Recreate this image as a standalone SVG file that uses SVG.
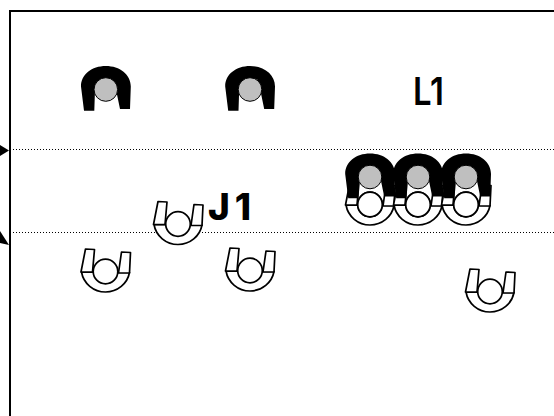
<svg xmlns="http://www.w3.org/2000/svg" width="554" height="416" viewBox="0 0 554 416">
<style>
.frame{fill:none;stroke:#000;stroke-width:2}
.dot{fill:none;stroke:#000;stroke-width:1.200;stroke-dasharray:1 2}
.lbl{font-family:"Inter","Liberation Sans",sans-serif;fill:#000}
.wh{fill:#fff;stroke:#000;stroke-width:1.700;stroke-linejoin:round}
</style>
<defs>
<g id="black-seat">
<path d="M-21.800 21.200 L-24.800 -3 C-25 -15 -14 -23.500 0 -23.500 C14 -23.500 25 -15 25 -3 L24.200 19.500 L14.200 19.500 L10.900 3.500 L-10.800 0 L-11.500 21.200 Z" fill="#000"/>
<circle cx="0" cy="0" r="11.800" fill="#bfbfbf" stroke="#000" stroke-width="1"/>
</g>
<g id="white-seat">
<path class="wh" d="M-24 0.500 C-22 12 -12 20.500 0 20.500 C12 20.500 22 12 24 1 Z"/>
<path class="wh" d="M-20 -22.500 L-11 -22 L-13 0.500 L-24.500 0.500 Z"/>
<path class="wh" d="M16 -19.500 L25 -19 L24 1.500 L13 1.500 Z"/>
<circle class="wh" cx="0" cy="0" r="12.300"/>
</g>
</defs>
<rect width="554" height="416" fill="#fff"/>
<g id="connectors">
<path class="dot" d="M13 149.500H554"/>
<path class="dot" d="M13 232.500H554"/>
</g>
<path class="frame" d="M10 416V11H554"/>
<path d="M0 145L9 150.500L0 156Z" fill="#000"/>
<path d="M0 231L9 245L0 243Z" fill="#000"/>
<g id="seat-b1"><use href="#black-seat" x="105.800" y="89.500"/></g>
<g id="seat-b2"><use href="#black-seat" x="250" y="89.500"/></g>
<g id="seat-w1"><use href="#white-seat" x="105.500" y="271.500"/></g>
<g id="seat-w2"><use href="#white-seat" x="250" y="270.500"/></g>
<g id="seat-w3"><use href="#white-seat" x="178" y="224"/></g>
<g id="seat-w4"><use href="#white-seat" x="490" y="291.500"/></g>
<g id="cluster-1"><use href="#white-seat" x="370" y="204.500"/><use href="#black-seat" x="370" y="177"/><circle class="wh" cx="370" cy="204.500" r="12.300"/></g>
<g id="cluster-2"><use href="#white-seat" x="418" y="204.500"/><use href="#black-seat" x="418" y="177"/><circle class="wh" cx="418" cy="204.500" r="12.300"/></g>
<g id="cluster-3"><use href="#white-seat" x="466" y="204.500"/><use href="#black-seat" x="466" y="177"/><circle class="wh" cx="466" cy="204.500" r="12.300"/></g>
<g id="label-l1"><text class="lbl" x="413" y="105" font-size="38" font-weight="600" textLength="31" lengthAdjust="spacingAndGlyphs">L1</text></g>
<g id="label-j1"><text class="lbl" x="208" y="220" font-size="37" font-weight="800" letter-spacing="5">J1</text></g>
</svg>
